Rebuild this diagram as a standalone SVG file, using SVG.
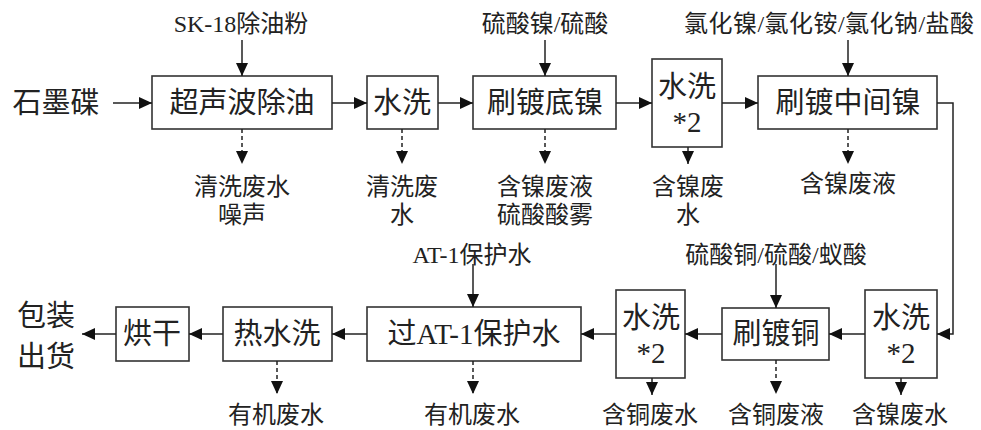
<svg xmlns="http://www.w3.org/2000/svg" width="981" height="430" viewBox="0 0 981 430">
<style>
.box{fill:#fff;stroke:#333;stroke-width:1.6}
.t{font-family:"Liberation Serif","Noto Sans CJK SC",serif;fill:#222;text-anchor:middle;dominant-baseline:central}
.big{font-size:29px}
.sm{font-size:24px}
.ln{fill:none;stroke:#222;stroke-width:1.5}
.dash{stroke-dasharray:4 3}
</style>
<defs>
<marker id="ah" markerUnits="userSpaceOnUse" markerWidth="14" markerHeight="12" refX="13" refY="6" orient="auto">
<path d="M0,0 L13,6 L0,12 Z" fill="#111"/>
</marker>
</defs>
<rect width="981" height="430" fill="#fff"/>

<g id="input-labels">
<text class="t big" x="56" y="103">石墨碟</text>
<text class="t sm" x="241" y="24">SK-18除油粉</text>
<text class="t sm" x="545" y="24">硫酸镍/硫酸</text>
<text class="t sm" x="684" y="24" style="text-anchor:start" textLength="290" lengthAdjust="spacing">氯化镍/氯化铵/氯化钠/盐酸</text>
<text class="t sm" x="472" y="255">AT-1保护水</text>
<text class="t sm" x="776" y="255">硫酸铜/硫酸/蚁酸</text>
<text class="t big" x="46" y="316">包装</text>
<text class="t big" x="46" y="357">出货</text>
</g>

<g id="n1"><rect class="box" x="152" y="76" width="180" height="53"/><text class="t big" x="242" y="103">超声波除油</text></g>
<g id="n2"><rect class="box" x="367" y="76" width="71" height="53"/><text class="t big" x="402" y="103">水洗</text></g>
<g id="n3"><rect class="box" x="473" y="76" width="143" height="53"/><text class="t big" x="545" y="103">刷镀底镍</text></g>
<g id="n4"><rect class="box" x="652" y="59" width="70" height="88"/><text class="t big" x="687" y="87">水洗</text><text class="t big" x="687" y="122">*2</text></g>
<g id="n5"><rect class="box" x="758" y="76" width="179" height="53"/><text class="t big" x="848" y="103">刷镀中间镍</text></g>
<g id="n6"><rect class="box" x="865" y="290" width="72" height="88"/><text class="t big" x="901" y="318">水洗</text><text class="t big" x="901" y="353">*2</text></g>
<g id="n7"><rect class="box" x="722" y="308" width="107" height="52"/><text class="t big" x="776" y="334">刷镀铜</text></g>
<g id="n8"><rect class="box" x="616" y="290" width="69" height="88"/><text class="t big" x="651" y="318">水洗</text><text class="t big" x="651" y="353">*2</text></g>
<g id="n9"><rect class="box" x="367" y="307" width="214" height="54"/><text class="t big" x="474" y="334">过AT-1保护水</text></g>
<g id="n10"><rect class="box" x="223" y="307" width="109" height="54"/><text class="t big" x="277" y="334">热水洗</text></g>
<g id="n11"><rect class="box" x="116" y="307" width="73" height="54"/><text class="t big" x="152" y="334">烘干</text></g>

<g id="output-labels">
<text class="t sm" x="242" y="187">清洗废水</text>
<text class="t sm" x="242" y="215">噪声</text>
<text class="t sm" x="402" y="187">清洗废</text>
<text class="t sm" x="402" y="215">水</text>
<text class="t sm" x="545" y="187">含镍废液</text>
<text class="t sm" x="545" y="215">硫酸酸雾</text>
<text class="t sm" x="688" y="187">含镍废</text>
<text class="t sm" x="688" y="215">水</text>
<text class="t sm" x="848" y="184">含镍废液</text>
<text class="t sm" x="276" y="415">有机废水</text>
<text class="t sm" x="472" y="415">有机废水</text>
<text class="t sm" x="650" y="415">含铜废水</text>
<text class="t sm" x="776" y="415">含铜废液</text>
<text class="t sm" x="900" y="415">含镍废水</text>
</g>

<g id="connectors">
<path class="ln" d="M113,103 H152" marker-end="url(#ah)"/>
<path class="ln" d="M332,103 H367" marker-end="url(#ah)"/>
<path class="ln" d="M438,103 H473" marker-end="url(#ah)"/>
<path class="ln" d="M616,103 H652" marker-end="url(#ah)"/>
<path class="ln" d="M722,103 H758" marker-end="url(#ah)"/>
<path class="ln" d="M937,103 H953 V334 H937" marker-end="url(#ah)"/>
<path class="ln" d="M865,334 H829" marker-end="url(#ah)"/>
<path class="ln" d="M722,334 H685" marker-end="url(#ah)"/>
<path class="ln" d="M616,334 H581" marker-end="url(#ah)"/>
<path class="ln" d="M367,334 H332" marker-end="url(#ah)"/>
<path class="ln" d="M223,334 H189" marker-end="url(#ah)"/>
<path class="ln" d="M116,334 H82" marker-end="url(#ah)"/>

<path class="ln" d="M242,40 V76" marker-end="url(#ah)"/>
<path class="ln" d="M545,40 V76" marker-end="url(#ah)"/>
<path class="ln" d="M848,40 V76" marker-end="url(#ah)"/>
<path class="ln" d="M473,264 V307" marker-end="url(#ah)"/>
<path class="ln" d="M776,264 V308" marker-end="url(#ah)"/>

<path class="ln dash" d="M242,129 V164" marker-end="url(#ah)"/>
<path class="ln dash" d="M402,129 V164" marker-end="url(#ah)"/>
<path class="ln dash" d="M545,129 V164" marker-end="url(#ah)"/>
<path class="ln" d="M688,147 V164" marker-end="url(#ah)"/>
<path class="ln dash" d="M848,129 V164" marker-end="url(#ah)"/>
<path class="ln dash" d="M277,361 V394" marker-end="url(#ah)"/>
<path class="ln dash" d="M473,361 V394" marker-end="url(#ah)"/>
<path class="ln" d="M652,378 V395" marker-end="url(#ah)"/>
<path class="ln dash" d="M776,360 V394" marker-end="url(#ah)"/>
<path class="ln" d="M901,378 V395" marker-end="url(#ah)"/>
</g>
</svg>
